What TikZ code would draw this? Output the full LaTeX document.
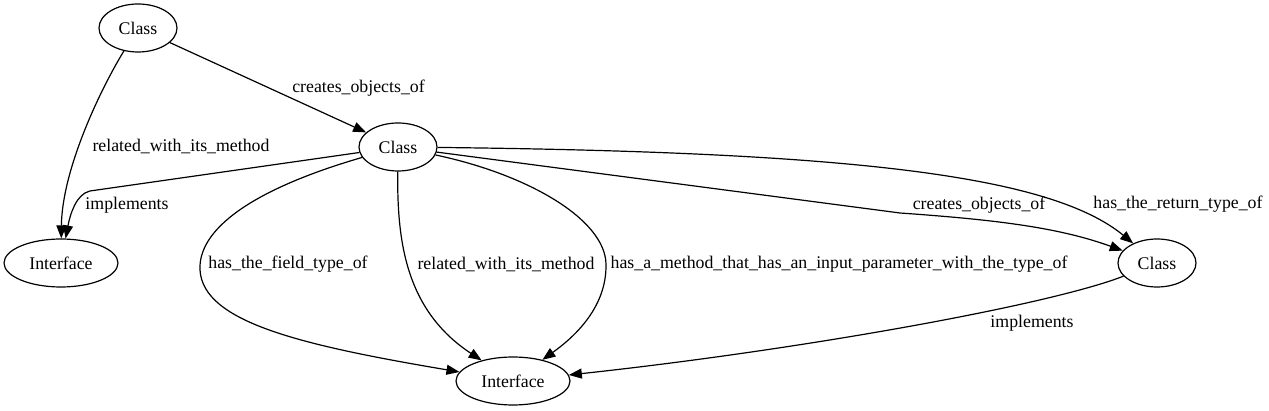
\documentclass[tikz,border=0pt]{standalone}
\usepackage{fontspec}
\setmainfont{Liberation Serif}
\usetikzlibrary{shapes.geometric,arrows.meta}
\tikzset{
  cls/.style={draw, ellipse, line width=1.2pt, minimum width=78pt, minimum height=48pt, inner sep=0pt},
  ifc/.style={draw, ellipse, line width=1.2pt, minimum width=114pt, minimum height=48pt, inner sep=0pt},
  arr/.style={line width=1.2pt, -{Triangle[length=13pt,width=10pt]}},
  lbl/.style={inner sep=0pt, anchor=center},
}
\begin{document}
\begin{tikzpicture}[x=1pt,y=-1pt,font=\fontsize{17.8}{20}\selectfont]
\useasboundingbox (0,0) rectangle (1269,411);
\node[cls] (c1) at (138,28) {Class};
\node[cls] (c2) at (398,147) {Class};
\node[ifc] (il) at (61,263) {Interface};
\node[ifc] (ib) at (513,381) {Interface};
\node[cls] (cr) at (1157,263) {Class};

\draw[arr] (c1) -- (c2);
\node[lbl] (l1) at (358.5,88) {creates\_objects\_of};

\draw[arr] (c1) .. controls (100,90) and (62,170) .. (il);
\node[lbl] (l2) at (181,146) {related\_with\_its\_method};

\coordinate (b3) at (90,191);
\draw[arr] (c2) -- (b3) .. controls (76,194) and (70,215) .. (il);
\node[lbl] (l3) at (127,205) {implements};

\coordinate (m4) at (200,270);
\draw[arr] (c2) .. controls (250,190) and (198,230) .. (m4) .. controls (203,322) and (300,345) .. (ib);
\node[lbl] (l4) at (288,264) {has\_the\_field\_type\_of};

\draw[arr] (c2) .. controls (397,240) and (405,310) .. (ib);
\node[lbl] (l5) at (506,264) {related\_with\_its\_method};

\coordinate (m6) at (606,264);
\draw[arr] (c2) .. controls (530,175) and (605,220) .. (m6) .. controls (607,310) and (570,340) .. (ib);
\node[lbl] (l6) at (839,264) {has\_a\_method\_that\_has\_an\_input\_parameter\_with\_the\_type\_of};

\coordinate (b7) at (900,213);
\draw[arr] (c2) -- (b7) .. controls (1000,220) and (1060,228) .. (cr);
\node[lbl] (l7) at (979,205) {creates\_objects\_of};

\draw[arr] (c2) .. controls (850,152) and (1050,175) .. (cr);
\node[lbl] (l8) at (1178,204) {has\_the\_return\_type\_of};

\draw[arr] (cr) .. controls (1050,305) and (800,350) .. (ib);
\node[lbl] (l9) at (1032,323) {implements};
\end{tikzpicture}
\end{document}
